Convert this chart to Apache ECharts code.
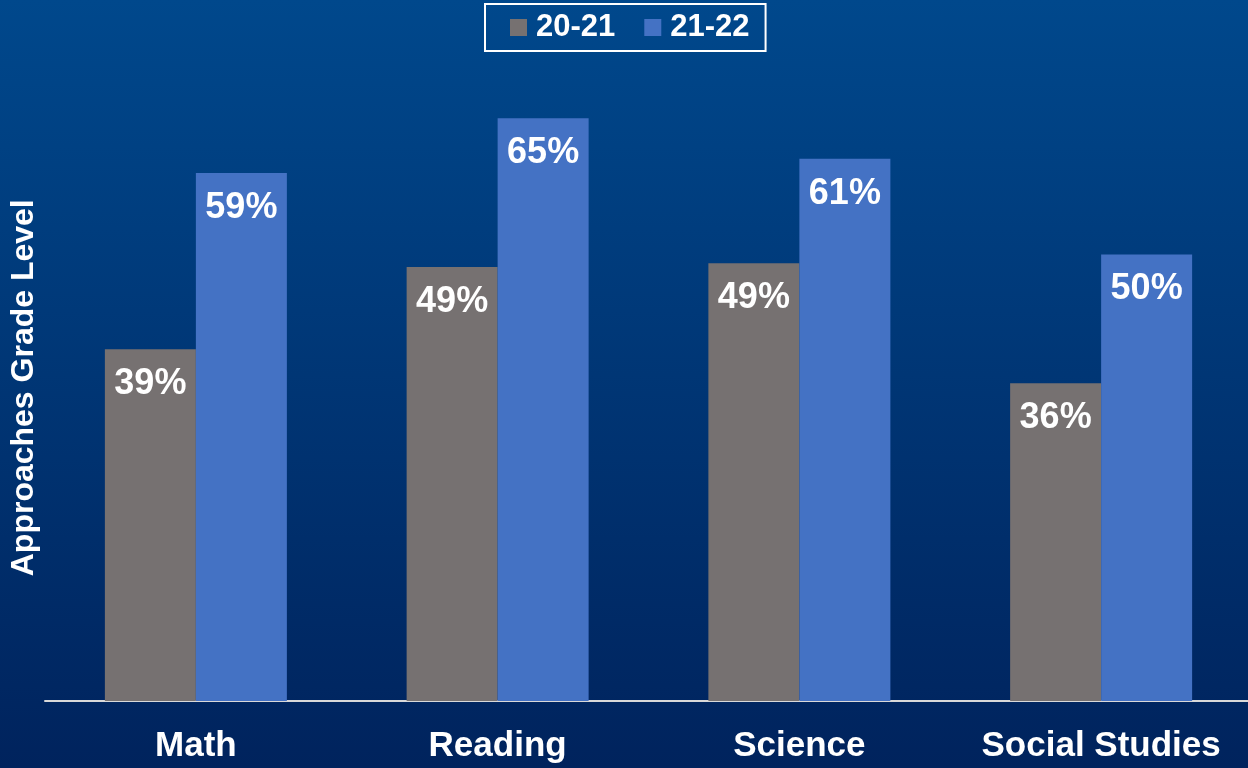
<!DOCTYPE html>
<html>
<head>
<meta charset="utf-8">
<script src="https://cdn.jsdelivr.net/npm/echarts@6/dist/echarts.min.js"></script>
<style>
html,body{margin:0;padding:0;width:1248px;height:768px;overflow:hidden;background:#00235d;}
#c{width:1252px;height:768px;}
</style>
</head>
<body>
<div id="c"></div>
<script>
const categories = ['Math', 'Reading', 'Science', 'Social Studies'];
const series2021 = [39.3, 48.5, 48.9, 35.5];
const series2122 = [59.0, 65.1, 60.6, 49.9];
const seriesNames = ['20-21', '21-22'];
const yAxisName = 'Approaches Grade Level';

const chart = echarts.init(document.getElementById('c'));
const font = "'Liberation Sans', Arial, sans-serif";
const labelCfg = {
  show: true,
  position: 'insideTop',
  distance: 17,
  color: '#ffffff',
  fontSize: 36,
  fontWeight: 'bold',
  fontFamily: font,
  formatter: p => Math.round(p.value) + '%'
};
chart.setOption({
  backgroundColor: {
    type: 'linear', x: 0, y: 0, x2: 0, y2: 1,
    colorStops: [{offset: 0, color: '#00488c'}, {offset: 1, color: '#00235d'}]
  },
  animation: false,
  legend: {
    data: seriesNames,
    left: 485,
    top: 4,
    padding: [8, 16, 8, 25],
    borderColor: '#ffffff',
    borderWidth: 2,
    itemWidth: 17,
    itemHeight: 17,
    itemGap: 29,
    icon: 'rect',
    textStyle: {color: '#ffffff', fontSize: 31, fontWeight: 'bold', fontFamily: font, padding: [0, 0, 0, 4]}
  },
  grid: {left: 44, right: 0, top: 74.5, bottom: 67, containLabel: false},
  xAxis: {
    type: 'category',
    data: categories,
    axisLine: {show: true, lineStyle: {color: '#d9d9d9', width: 2}},
    axisTick: {show: false},
    axisLabel: {interval: 0, color: '#ffffff', fontSize: 35, fontWeight: 'bold', fontFamily: font, margin: 28}
  },
  yAxis: {
    type: 'value',
    min: 0,
    max: 70,
    name: yAxisName,
    nameLocation: 'middle',
    nameGap: 5,
    nameTextStyle: {color: '#ffffff', fontSize: 32, fontWeight: 'bold', fontFamily: font},
    axisLine: {show: false},
    axisTick: {show: false},
    axisLabel: {show: false},
    splitLine: {show: false}
  },
  series: [
    {name: seriesNames[0], type: 'bar', data: series2021, barWidth: 91, barGap: '0%',
     itemStyle: {color: '#767171'}, label: labelCfg},
    {name: seriesNames[1], type: 'bar', data: series2122, barWidth: 91, barGap: '0%',
     itemStyle: {color: '#4472c4'}, label: labelCfg}
  ]
});
</script>
</body>
</html>
